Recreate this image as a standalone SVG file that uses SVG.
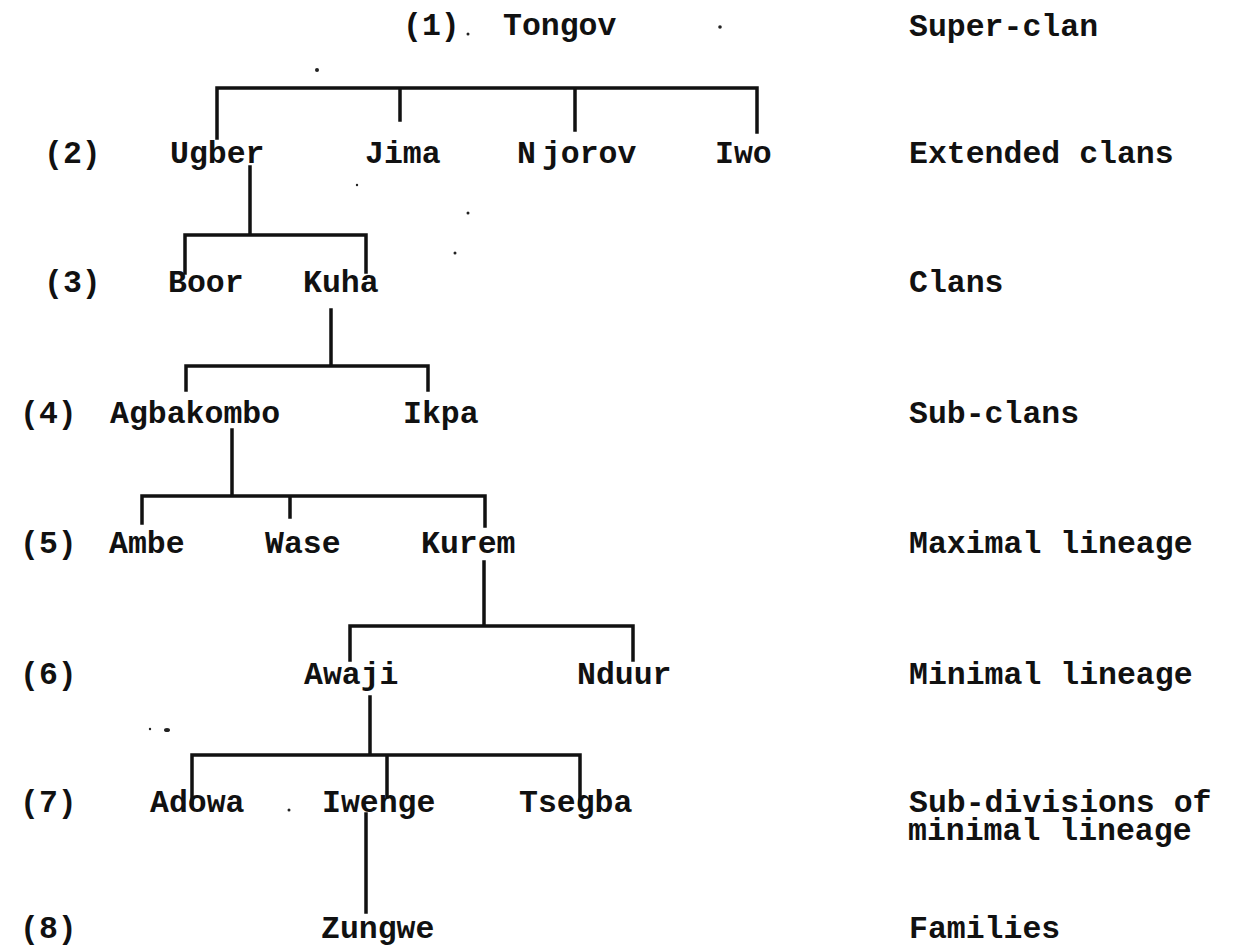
<svg xmlns="http://www.w3.org/2000/svg" width="1237" height="947" viewBox="0 0 1237 947">
<style>
  text { font-family: "Liberation Mono", "DejaVu Sans Mono", monospace; font-size: 31.5px; font-weight: bold; fill: #111; }
  .ln { stroke: #111; stroke-width: 3.5; fill: none; stroke-linecap: square; }
  .spk { fill: #222; }
</style>
<rect width="1237" height="947" fill="#fff"/>

<g id="connectors">
  <!-- Tongov -> extended clans -->
  <path class="ln" d="M217 138 V88 H757 V132 M400 88 V120 M575 88 V130"/>
  <!-- Ugber -> clans -->
  <path class="ln" d="M250 167 V235 M185 273 V235 H366 V272"/>
  <!-- Kuha -> sub-clans -->
  <path class="ln" d="M331 310 V366 M186 390 V366 H428 V390"/>
  <!-- Agbakombo -> maximal lineages -->
  <path class="ln" d="M232 430 V496 M142 523 V496 H485 V526 M290 496 V517"/>
  <!-- Kurem -> minimal lineages -->
  <path class="ln" d="M484 562 V626 M350 660 V626 H633 V660"/>
  <!-- Awaji -> sub-divisions -->
  <path class="ln" d="M370 697 V755 M192 803 V755 H580 V803 M387 755 V797"/>
  <!-- Iwenge -> Zungwe -->
  <path class="ln" d="M366 814 V912"/>
</g>

<g id="levels">
  <g id="lvl2"><text x="44" y="163">(2)</text></g>
  <g id="lvl3"><text x="44" y="292">(3)</text></g>
  <g id="lvl4"><text x="20" y="423">(4)</text></g>
  <g id="lvl5"><text x="20" y="553">(5)</text></g>
  <g id="lvl6"><text x="20" y="684">(6)</text></g>
  <g id="lvl7"><text x="20" y="812">(7)</text></g>
  <g id="lvl8"><text x="20" y="938">(8)</text></g>
</g>

<g id="n-tongov"><text x="403" y="35">(1)</text><text x="503" y="35">Tongov</text></g>
<g id="n-ugber"><text x="170" y="163">Ugber</text></g>
<g id="n-jima"><text x="365" y="163">Jima</text></g>
<g id="n-njorov"><text x="517" y="163">N<tspan dx="6">jorov</tspan></text></g>
<g id="n-iwo"><text x="715" y="163">Iwo</text></g>
<g id="n-boor"><text x="168" y="292">Boor</text></g>
<g id="n-kuha"><text x="303" y="292">Kuha</text></g>
<g id="n-agbakombo"><text x="110" y="423">Agbakombo</text></g>
<g id="n-ikpa"><text x="403" y="423">Ikpa</text></g>
<g id="n-ambe"><text x="109" y="553">Ambe</text></g>
<g id="n-wase"><text x="265" y="553">Wase</text></g>
<g id="n-kurem"><text x="421" y="553">Kurem</text></g>
<g id="n-awaji"><text x="304" y="684">Awaji</text></g>
<g id="n-nduur"><text x="577" y="684">Nduur</text></g>
<g id="n-adowa"><text x="150" y="812">Adowa</text></g>
<g id="n-iwenge"><text x="322" y="812">Iwenge</text></g>
<g id="n-tsegba"><text x="519" y="812">Tsegba</text></g>
<g id="n-zungwe"><text x="321" y="938">Zungwe</text></g>

<g id="labels">
  <text x="909" y="36">Super-clan</text>
  <text x="909" y="163">Extended clans</text>
  <text x="909" y="292">Clans</text>
  <text x="909" y="423">Sub-clans</text>
  <text x="909" y="553">Maximal lineage</text>
  <text x="909" y="684">Minimal lineage</text>
  <text x="909" y="812">Sub-divisions of</text>
  <text x="908" y="840">minimal lineage</text>
  <text x="909" y="938">Families</text>
</g>

<g id="specks">
  <circle class="spk" cx="468" cy="34" r="1.5"/>
  <circle class="spk" cx="720" cy="27" r="1.8"/>
  <circle class="spk" cx="317" cy="70" r="2"/>
  <circle class="spk" cx="357" cy="185" r="1.2"/>
  <circle class="spk" cx="468" cy="213" r="1.5"/>
  <circle class="spk" cx="455" cy="253" r="1.5"/>
  <circle class="spk" cx="289" cy="810" r="1.5"/>
  <ellipse class="spk" cx="167" cy="730" rx="3" ry="2"/>
  <circle class="spk" cx="150" cy="729" r="1.2"/>
</g>
</svg>
